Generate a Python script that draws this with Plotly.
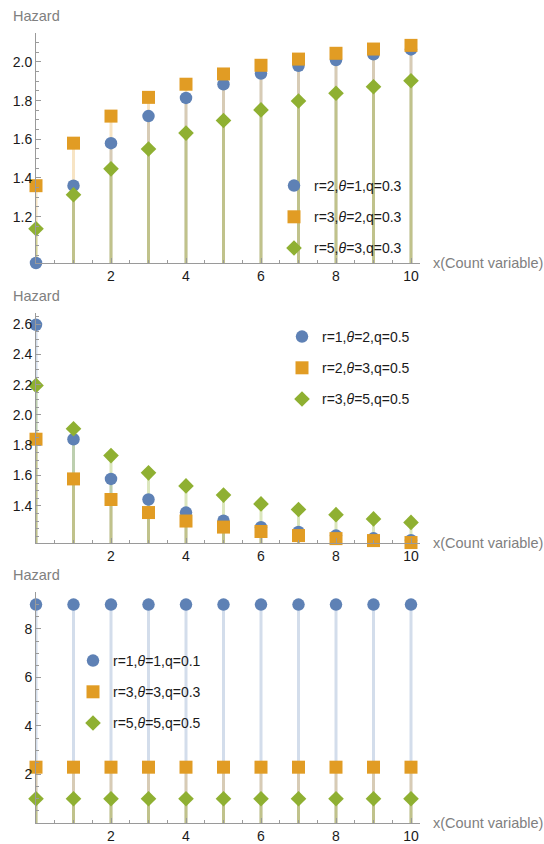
import plotly.graph_objects as go

# ---------------- data ----------------
x_vals = [0, 1, 2, 3, 4, 5, 6, 7, 8, 9, 10]

p1_names = ["r=2,<i>θ</i>=1,q=0.3", "r=3,<i>θ</i>=2,q=0.3", "r=5,<i>θ</i>=3,q=0.3"]
p1_blue = [0.96, 1.36, 1.58, 1.72, 1.814, 1.885, 1.94, 1.98, 2.01, 2.04, 2.065]
p1_orange = [1.36, 1.58, 1.72, 1.817, 1.885, 1.938, 1.983, 2.015, 2.045, 2.067, 2.086]
p1_green = [1.137, 1.313, 1.447, 1.55, 1.632, 1.697, 1.752, 1.798, 1.838, 1.872, 1.903]

p2_names = ["r=1,<i>θ</i>=2,q=0.5", "r=2,<i>θ</i>=3,q=0.5", "r=3,<i>θ</i>=5,q=0.5"]
p2_blue = [2.595, 1.84, 1.578, 1.442, 1.356, 1.302, 1.259, 1.228, 1.204, 1.186, 1.173]
p2_orange = [1.84, 1.578, 1.442, 1.356, 1.30, 1.26, 1.231, 1.204, 1.184, 1.171, 1.158]
p2_green = [2.195, 1.909, 1.732, 1.618, 1.532, 1.471, 1.413, 1.376, 1.342, 1.314, 1.291]

p3_names = ["r=1,<i>θ</i>=1,q=0.1", "r=3,<i>θ</i>=3,q=0.3", "r=5,<i>θ</i>=5,q=0.5"]
p3_blue = [9.0] * 11
p3_orange = [2.3] * 11
p3_green = [1.0] * 11

x_tick_vals = [2, 4, 6, 8, 10]
p1_ytick_vals = [1.2, 1.4, 1.6, 1.8, 2.0]
p2_ytick_vals = [1.4, 1.6, 1.8, 2.0, 2.2, 2.4, 2.6]
p3_ytick_vals = [2, 4, 6, 8]

# ---------------- style ----------------
W, H = 544, 844
COLORS = ["#5E81B5", "#E19C24", "#8FB032"]
STEM = ["rgba(94,129,181,0.27)", "rgba(225,156,36,0.27)", "rgba(143,176,50,0.32)"]
SYMBOLS = ["circle", "square", "diamond"]
SIZES = [12.5, 13, 12]
AXIS_COL = "#9a9a9a"
FONT = "Liberation Sans, Arial, sans-serif"

X0_PX, X1_PX = 36, 420
XRANGE = [0, 10.24]

panels = [
    dict(series=[p1_blue, p1_orange, p1_green], names=p1_names, top=33, bot=263,
         yrange=[0.96, 2.15], ticks=p1_ytick_vals, fmt=".1f", minor=0.05, tick0=0.0,
         legend=dict(x=274, y=170)),
    dict(series=[p2_blue, p2_orange, p2_green], names=p2_names, top=313, bot=543,
         yrange=[1.155, 2.673], ticks=p2_ytick_vals, fmt=".1f", minor=0.05, tick0=0.0,
         legend=dict(x=282, y=321)),
    dict(series=[p3_blue, p3_orange, p3_green], names=p3_names, top=592, bot=823,
         yrange=[0, 9.52], ticks=p3_ytick_vals, fmt="d", minor=0.5, tick0=0.0,
         legend=dict(x=73, y=645)),
]

fig = go.Figure()
layout = dict(
    width=W, height=H, margin=dict(l=0, r=0, t=0, b=0),
    paper_bgcolor="white", plot_bgcolor="white",
    font=dict(family=FONT, size=14, color="#222"),
    showlegend=True,
)
annotations = []

for i, p in enumerate(panels):
    n = i + 1
    xa = "x" if n == 1 else f"x{n}"
    ya = "y" if n == 1 else f"y{n}"
    leg = "legend" if n == 1 else f"legend{n}"
    base = p["yrange"][0]
    # stems (drawn first, below all markers)
    for s, vals in enumerate(p["series"]):
        sx, sy = [], []
        for xv, yv in zip(x_vals, vals):
            sx += [xv, xv, None]
            sy += [base, yv, None]
        fig.add_trace(go.Scatter(x=sx, y=sy, mode="lines", xaxis=xa, yaxis=ya,
                                 line=dict(color=STEM[s], width=3),
                                 showlegend=False, hoverinfo="skip", cliponaxis=False))
    # markers
    for s, vals in enumerate(p["series"]):
        fig.add_trace(go.Scatter(x=x_vals, y=vals, mode="markers", xaxis=xa, yaxis=ya,
                                 name=p["names"][s], legend=leg, legendgroup=f"g{n}{s}",
                                 marker=dict(color=COLORS[s], symbol=SYMBOLS[s], size=SIZES[s],
                                             line=dict(width=0)),
                                 cliponaxis=False))
    dom_y = [1 - p["bot"] / H, 1 - p["top"] / H]
    layout["xaxis" if n == 1 else f"xaxis{n}"] = dict(
        domain=[X0_PX / W, X1_PX / W], range=XRANGE, anchor=ya,
        showgrid=False, zeroline=False, showline=True, linecolor=AXIS_COL, linewidth=1,
        tickmode="array", tickvals=x_tick_vals, ticks="inside", ticklen=5, tickcolor=AXIS_COL,
        tickfont=dict(size=14, color="#1a1a1a"),
        minor=dict(tickmode="linear", tick0=0, dtick=0.5, ticks="inside", ticklen=3,
                   tickcolor=AXIS_COL, showgrid=False),
    )
    layout["yaxis" if n == 1 else f"yaxis{n}"] = dict(
        domain=dom_y, range=p["yrange"], anchor=xa,
        showgrid=False, zeroline=False, showline=True, linecolor=AXIS_COL, linewidth=1,
        tickmode="array", tickvals=p["ticks"], tickformat=p["fmt"],
        ticks="inside", ticklen=5, tickcolor=AXIS_COL,
        tickfont=dict(size=14, color="#1a1a1a"),
        minor=dict(tickmode="linear", tick0=p["tick0"], dtick=p["minor"], ticks="inside",
                   ticklen=3, tickcolor=AXIS_COL, showgrid=False),
    )
    lg = p["legend"]
    layout[leg] = dict(x=lg["x"] / W, y=1 - lg["y"] / H, xanchor="left", yanchor="top",
                       bgcolor="rgba(0,0,0,0)", font=dict(size=14, color="#1a1a1a"),
                       tracegroupgap=10, itemclick=False)
    annotations.append(dict(text="Hazard", xref="paper", yref="paper",
                            x=X0_PX / W, y=1 - (p["top"] - 17) / H,
                            xanchor="center", yanchor="middle", showarrow=False,
                            font=dict(size=14.5, color="#808080")))
    annotations.append(dict(text="x(Count variable)", xref="paper", yref="paper",
                            x=431 / W, y=1 - p["bot"] / H,
                            xanchor="left", yanchor="middle", showarrow=False,
                            font=dict(size=14.5, color="#808080")))

layout["annotations"] = annotations
fig.update_layout(**layout)
fig.write_html("out.html", config={"displayModeBar": False},
               post_script="document.body.style.margin='0';")
